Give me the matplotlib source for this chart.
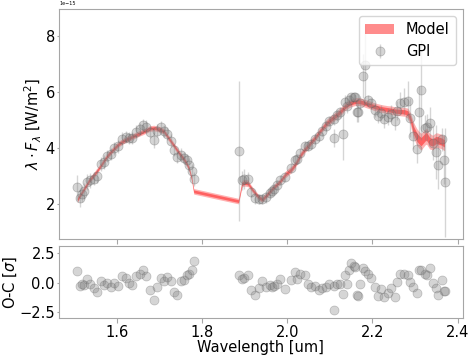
import numpy as np
import matplotlib
matplotlib.use('Agg')
import matplotlib.pyplot as plt

# GPI H band
wl_h = [1.508, 1.513, 1.518, 1.523, 1.530, 1.537, 1.546, 1.554, 1.563, 1.571,
        1.578, 1.587, 1.595, 1.603, 1.612, 1.621, 1.630, 1.637, 1.645, 1.654,
        1.662, 1.670, 1.678, 1.687, 1.694, 1.703, 1.711, 1.719, 1.727, 1.734,
        1.742, 1.750, 1.758, 1.765, 1.770, 1.776, 1.781]
flux_h = [2.59, 2.20, 2.37, 2.46, 2.79, 2.84, 2.91, 2.99, 3.42, 3.51,
          3.71, 3.80, 3.99, 4.06, 4.34, 4.39, 4.35, 4.37, 4.59, 4.69,
          4.82, 4.77, 4.57, 4.29, 4.63, 4.75, 4.62, 4.52, 4.27, 3.93,
          3.69, 3.77, 3.65, 3.57, 3.41, 3.17, 2.90]
err_h = [0.45, 0.30, 0.30, 0.30, 0.28, 0.28, 0.25, 0.25, 0.25, 0.25,
         0.22, 0.22, 0.22, 0.22, 0.22, 0.22, 0.22, 0.22, 0.22, 0.22,
         0.22, 0.22, 0.22, 0.30, 0.22, 0.22, 0.22, 0.22, 0.22, 0.22,
         0.22, 0.22, 0.22, 0.22, 0.22, 0.25, 0.25]
model_h = [2.15, 2.28, 2.40, 2.52, 2.70, 2.87, 3.02, 3.18, 3.38, 3.56,
           3.72, 3.87, 4.00, 4.12, 4.22, 4.30, 4.36, 4.41, 4.47, 4.53,
           4.58, 4.64, 4.70, 4.72, 4.70, 4.66, 4.60, 4.42, 4.25, 4.10,
           3.92, 3.75, 3.60, 3.42, 3.25, 2.90, 2.45]
msig_h = [0.10] * 37
resid_h = [0.97, -0.26, -0.11, -0.20, 0.31, -0.10, -0.46, -0.77, 0.17, -0.20,
           -0.03, -0.34, -0.03, -0.26, 0.54, 0.40, -0.03, -0.17, 0.54, 0.74,
           1.08, 0.57, -0.60, -1.45, -0.34, 0.40, 0.11, 0.45, 0.11, -0.77,
           -1.05, 0.11, 0.23, 0.66, 0.74, 1.08, 1.80]

# GPI K1 + K2 bands
wl_k = [1.886, 1.894, 1.899, 1.908, 1.916, 1.924, 1.933, 1.941, 1.951, 1.959,
        1.965, 1.969, 1.976, 1.984, 1.996, 2.010, 2.018, 2.024, 2.029, 2.041,
        2.049, 2.056, 2.066, 2.074, 2.082, 2.091, 2.099, 2.109, 2.111, 2.117,
        2.124, 2.131, 2.135, 2.140, 2.144, 2.150, 2.156, 2.158, 2.163, 2.165,
        2.171, 2.178, 2.183, 2.189, 2.197, 2.205, 2.213, 2.221, 2.228, 2.236,
        2.244, 2.252, 2.258, 2.265, 2.275, 2.283, 2.289, 2.296, 2.304, 2.309,
        2.314, 2.324, 2.327, 2.334, 2.341, 2.349, 2.353, 2.363, 2.367, 2.369]
flux_k = [3.90, 2.84, 2.90, 2.90, 2.43, 2.20, 2.16, 2.19, 2.23, 2.40,
          2.47, 2.55, 2.68, 2.87, 2.97, 3.28, 3.56, 3.60, 3.83, 4.06,
          4.06, 4.15, 4.32, 4.44, 4.62, 4.80, 4.96, 5.04, 4.37, 5.18,
          5.28, 4.49, 5.65, 5.50, 5.74, 5.82, 5.82, 5.82, 5.29, 5.28,
          5.63, 6.59, 6.98, 5.72, 5.61, 5.38, 5.16, 5.26, 5.03, 5.12,
          5.23, 4.96, 5.34, 5.61, 5.67, 5.69, 5.09, 4.45, 3.96, 5.28,
          6.08, 4.73, 4.74, 4.91, 4.18, 3.86, 3.40, 4.31, 3.58, 2.78]
err_k = [2.50, 0.35, 0.35, 0.25, 0.20, 0.20, 0.18, 0.18, 0.18, 0.18,
         0.18, 0.18, 0.18, 0.18, 0.18, 0.18, 0.18, 0.18, 0.18, 0.18,
         0.18, 0.18, 0.18, 0.18, 0.18, 0.18, 0.18, 0.20, 0.33, 0.20,
         0.20, 0.90, 0.25, 0.25, 0.15, 0.12, 0.12, 0.12, 0.35, 0.35,
         0.25, 0.80, 1.42, 0.20, 0.20, 0.25, 0.25, 0.30, 0.30, 0.30,
         0.30, 0.30, 0.35, 0.40, 0.50, 0.70, 0.70, 0.50, 0.50, 0.95,
         1.80, 0.45, 0.50, 0.55, 0.60, 0.95, 0.85, 0.40, 0.88, 1.95]
model_k = [2.10, 2.72, 2.76, 2.74, 2.56, 2.40, 2.24, 2.16, 2.30, 2.44,
           2.54, 2.60, 2.70, 2.82, 3.06, 3.24, 3.40, 3.55, 3.70, 3.95,
           4.08, 4.22, 4.38, 4.55, 4.70, 4.87, 4.98, 5.10, 5.13, 5.20,
           5.30, 5.40, 5.48, 5.53, 5.58, 5.62, 5.65, 5.66, 5.67, 5.67,
           5.66, 5.63, 5.60, 5.57, 5.53, 5.48, 5.45, 5.42, 5.40, 5.38,
           5.36, 5.33, 5.32, 5.31, 5.30, 5.25, 5.05, 4.65, 4.40, 4.30,
           4.23, 4.40, 4.42, 4.25, 4.20, 4.29, 4.28, 4.23, 4.18, 4.18]
msig_k = [0.10, 0.12, 0.12, 0.12, 0.10, 0.10, 0.10, 0.10, 0.10, 0.10,
          0.10, 0.10, 0.10, 0.10, 0.12, 0.12, 0.12, 0.12, 0.12, 0.12,
          0.12, 0.12, 0.12, 0.12, 0.12, 0.14, 0.14, 0.14, 0.14, 0.14,
          0.14, 0.14, 0.14, 0.14, 0.14, 0.14, 0.14, 0.14, 0.14, 0.14,
          0.14, 0.14, 0.14, 0.14, 0.14, 0.14, 0.14, 0.14, 0.14, 0.14,
          0.15, 0.15, 0.15, 0.15, 0.16, 0.18, 0.22, 0.28, 0.30, 0.30,
          0.30, 0.28, 0.28, 0.28, 0.26, 0.26, 0.26, 0.26, 0.26, 0.26]
resid_k = [0.68, 0.34, 0.40, 0.63, -0.65, -1.02, -0.45, 0.17, -0.40, -0.23,
           -0.40, -0.28, -0.11, 0.28, -0.51, 0.20, 0.88, 0.28, 0.74, 0.63,
           -0.11, -0.40, -0.31, -0.60, -0.45, -0.40, -0.11, -0.31, -2.30, -0.11,
           -0.11, -0.97, 0.66, -0.11, 1.05, 1.68, 1.39, 1.30, -1.08, -1.12,
           -0.11, 1.20, 0.97, 0.74, 0.40, -0.40, -1.17, -0.54, -1.25, -0.88,
           -0.45, -1.25, 0.06, 0.74, 0.74, 0.63, 0.06, -0.40, -0.88, 1.03,
           1.03, 0.74, 0.63, 1.20, -0.03, -0.45, -1.03, 0.20, -0.68, -0.72]

unit = 1e-15  # W/m^2

wl = np.array(wl_h + wl_k)
flux = np.array(flux_h + flux_k) * unit
err = np.array(err_h + err_k) * unit
model = np.array(model_h + model_k) * unit
msig = np.array(msig_h + msig_k) * unit
resid = np.array(resid_h + resid_k)

fs = 10.5
spine_col = '0.65'

fig = plt.figure(figsize=(4.74, 3.55), dpi=100)
ax = fig.add_axes([0.1245, 0.327, 0.852, 0.648])
ax2 = fig.add_axes([0.1245, 0.104, 0.852, 0.203], sharex=ax)

# model band, two layers to get the darker core
ax.fill_between(wl, model - msig, model + msig, color='red', alpha=0.3, lw=0)
ax.fill_between(wl, model - 0.5 * msig, model + 0.5 * msig, color='red',
                alpha=0.45, lw=0, label='Model')
ax.errorbar(wl, flux, yerr=err, fmt='o', color='gray', ms=6.5, mec='0.35',
            mew=0.6, elinewidth=1, alpha=0.33, label='GPI')

ax.set_ylim(0.745e-15, 8.99e-15)
ax.set_ylabel(r'$\lambda \cdot F_\lambda$ [W/m$^2$]', fontsize=fs)
ax.yaxis.set_label_coords(-0.036, 0.5)
ax.tick_params(labelbottom=False, labelsize=fs, color=spine_col, pad=2)
ax.tick_params(axis='y', length=1.5, pad=1.5)
ax.yaxis.get_offset_text().set_fontsize(3.5)
leg = ax.legend(loc='upper right', fontsize=fs, handlelength=2.0)

ax2.scatter(wl, resid, s=42, color='gray', edgecolor='0.35', linewidth=0.5,
            alpha=0.33)
ax2.set_ylim(-3.0, 3.1)
ax2.set_yticks([-2.5, 0.0, 2.5])
ax2.set_ylabel(r'O-C [$\sigma$]', fontsize=fs)
ax2.yaxis.set_label_coords(-0.1, 0.5)
ax2.set_xlabel('Wavelength [um]', fontsize=fs, labelpad=0)
ax2.tick_params(labelsize=fs, color=spine_col, pad=1.5)
ax2.tick_params(axis='y', length=1.5, pad=1.5)
ax2.set_xticks([1.6, 1.8, 2.0, 2.2, 2.4])

for a in (ax, ax2):
    for sp in a.spines.values():
        sp.set_color(spine_col)

fig.savefig('out.png', dpi=100)
